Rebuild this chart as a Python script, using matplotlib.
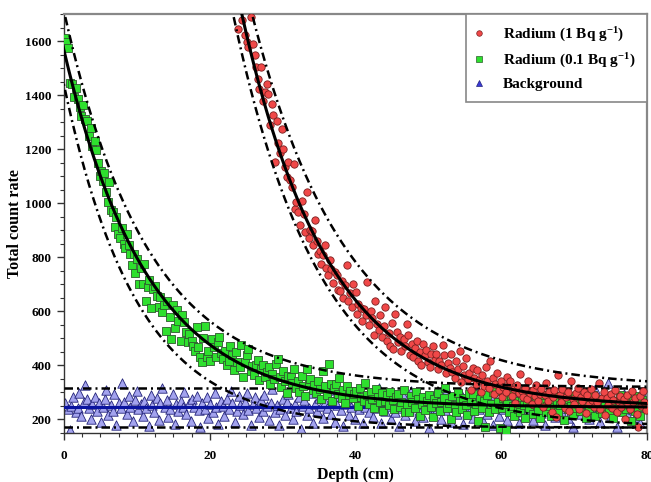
import numpy as np
import matplotlib.pyplot as plt
from matplotlib.ticker import MultipleLocator
from matplotlib.lines import Line2D

plt.rcParams['font.family'] = 'serif'
plt.rcParams['font.serif'] = ['Liberation Serif', 'DejaVu Serif']
plt.rcParams['font.weight'] = 'bold'
plt.rcParams['mathtext.fontset'] = 'custom'
plt.rcParams['mathtext.rm'] = 'Liberation Serif:bold'
plt.rcParams['mathtext.it'] = 'Liberation Serif:bold'
plt.rcParams['mathtext.bf'] = 'Liberation Serif:bold'

# ---- background (no source) ----
bg_depth = [
    0.2, 0.5, 0.8, 1.0, 1.3, 1.6, 1.9, 2.1, 2.4, 2.7,
    2.9, 3.1, 3.4, 3.7, 3.9, 4.2, 4.5, 4.8, 5.1, 5.4,
    5.6, 5.8, 6.1, 6.4, 6.7, 6.9, 7.2, 7.5, 7.8, 8.0,
    8.3, 8.6, 8.9, 9.1, 9.4, 9.7, 10.0, 10.2, 10.5, 10.8,
    11.0, 11.3, 11.6, 11.9, 12.1, 12.4, 12.7, 13.0, 13.2, 13.5,
    13.8, 14.1, 14.3, 14.6, 14.9, 15.2, 15.4, 15.7, 16.0, 16.3,
    16.5, 16.8, 17.1, 17.4, 17.6, 17.9, 18.2, 18.5, 18.7, 19.0,
    19.3, 19.6, 19.8, 20.1, 20.4, 20.7, 20.9, 21.2, 21.5, 21.8,
    22.0, 22.3, 22.6, 22.9, 23.1, 23.4, 23.7, 24.0, 24.2, 24.5,
    24.8, 25.1, 25.3, 25.6, 25.9, 26.2, 26.4, 26.7, 27.0, 27.3,
    27.5, 27.8, 28.1, 28.4, 28.6, 28.9, 29.2, 29.5, 29.7, 30.0,
    30.3, 30.6, 30.8, 31.1, 31.4, 31.7, 31.9, 32.2, 32.5, 32.8,
    33.0, 33.3, 33.6, 33.9, 34.1, 34.4, 34.7, 35.0, 35.2, 35.5,
    35.8, 36.1, 36.3, 36.6, 36.9, 37.2, 37.4, 37.7, 38.0, 38.3,
    38.5, 38.8, 39.1, 39.4, 39.6, 39.9, 40.2, 40.5, 40.7, 41.0,
    41.3, 41.6, 41.8, 42.1, 42.4, 42.7, 42.9, 43.2, 43.5, 43.8,
    44.0, 44.3, 44.6, 44.9, 45.1, 45.4, 45.7, 46.0, 46.2, 46.5,
    46.8, 47.1, 47.3, 47.6, 47.9, 48.2, 48.4, 48.7, 49.0, 49.3,
    49.5, 49.8, 50.1, 50.4, 50.6, 50.9, 51.2, 51.5, 51.7, 52.0,
    52.3, 52.6, 52.8, 53.1, 53.4, 53.7, 53.9, 54.2, 54.5, 54.8,
    55.0, 55.3, 55.6, 55.9, 56.1, 56.4, 56.7, 57.0, 57.2, 57.5,
    57.8, 58.1, 58.3, 58.6, 58.9, 59.2, 59.4, 59.7, 60.0, 60.3,
    60.5, 60.8, 61.1, 61.4, 61.6, 61.9, 62.2, 62.5, 62.7, 63.0,
    63.3, 63.6, 63.8, 64.1, 64.4, 64.7, 64.9, 65.2, 65.5, 65.8,
    66.0, 66.3, 66.6, 66.9, 67.1, 67.4, 67.7, 68.0, 68.2, 68.5,
    68.8, 69.1, 69.3, 69.6, 69.9, 70.2, 70.4, 70.7, 71.0, 71.3,
    71.5, 71.8, 72.1, 72.4, 72.6, 72.9, 73.2, 73.5, 73.7, 74.0,
    74.3, 74.6, 74.8, 75.1, 75.4, 75.7, 75.9, 76.2, 76.5, 76.8,
    77.0, 77.3, 77.6, 77.9, 78.1, 78.4, 78.7, 79.0, 79.3, 79.6,
]
bg_counts = [
    262, 238, 161, 251, 283, 226, 241, 297, 212, 266,
    329, 275, 244, 203, 258, 285, 231, 262, 191, 248,
    276, 309, 218, 254, 233, 295, 178, 262, 241, 336,
    264, 220, 287, 247, 196, 271, 305, 238, 256, 214,
    268, 242, 175, 290, 253, 226, 278, 199, 261, 317,
    247, 272, 209, 238, 294, 182, 256, 230, 268, 245,
    301, 221, 260, 193, 274, 248, 286, 234, 172, 262,
    239, 283, 204, 257, 226, 298, 245, 183, 270, 251,
    214, 276, 240, 305, 262, 191, 233, 288, 252, 219,
    265, 298, 236, 180, 257, 282, 244, 208, 271, 230,
    289, 249, 197, 262, 312, 226, 255, 178, 240, 276,
    218, 263, 294, 244, 203, 258, 232, 284, 166, 249,
    271, 215, 244, 297, 186, 257, 230, 279, 250, 206,
    263, 241, 310, 222, 268, 192, 253, 286, 234, 175,
    258, 281, 216, 246, 299, 201, 264, 237, 271, 186,
    245, 290, 228, 262, 209, 274, 243, 317, 187, 255,
    232, 268, 249, 202, 285, 226, 259, 176, 241, 292,
    216, 263, 238, 305, 251, 195, 276, 230, 264, 211,
    282, 247, 168, 259, 225, 293, 240, 270, 203, 256,
    235, 309, 262, 190, 248, 277, 221, 259, 296, 184,
    254, 229, 287, 242, 205, 266, 312, 237, 258, 196,
    273, 220, 251, 290, 178, 245, 265, 213, 283, 238,
    260, 199, 276, 244, 301, 226, 253, 187, 269, 240,
    215, 286, 255, 232, 198, 271, 247, 318, 224, 262,
    180, 253, 289, 236, 267, 210, 248, 295, 230, 261,
    243, 206, 278, 252, 172, 266, 235, 299, 219, 257,
    284, 238, 202, 263, 248, 314, 227, 190, 270, 251,
    232, 336, 260, 215, 281, 244, 174, 268, 237, 295,
    256, 222, 273, 240, 301, 209, 262, 186, 247, 279,
]

# ---- radium source, 0.1 Bq/g ----
low_depth = [
    0.1, 0.3, 0.5, 0.8, 1.1, 1.4, 1.6, 1.9, 2.2, 2.4,
    2.6, 2.9, 3.2, 3.4, 3.7, 3.9, 4.2, 4.4, 4.7, 4.9,
    5.1, 5.3, 5.5, 5.8, 6.0, 6.2, 6.5, 6.7, 7.0, 7.2,
    7.4, 7.7, 7.9, 8.2, 8.4, 8.6, 8.9, 9.1, 9.3, 9.6,
    9.8, 10.0, 10.3, 10.5, 10.8, 11.0, 11.2, 11.5, 11.7, 12.0,
    12.2, 12.5, 12.7, 13.0, 13.2, 13.5, 13.7, 14.0, 14.2, 14.5,
    14.7, 15.0, 15.2, 15.5, 15.7, 16.0, 16.2, 16.5, 16.7, 17.0,
    17.2, 17.5, 17.7, 18.0, 18.2, 18.4, 18.7, 18.9, 19.1, 19.4,
    19.6, 19.8, 20.1, 20.3, 20.6, 20.8, 21.1, 21.3, 21.6, 21.8,
    22.1, 22.3, 22.6, 22.8, 23.1, 23.3, 23.6, 23.8, 24.1, 24.3,
    24.6, 24.8, 25.1, 25.3, 25.6, 25.8, 26.1, 26.3, 26.6, 26.8,
    27.1, 27.3, 27.6, 27.8, 28.1, 28.3, 28.6, 28.8, 29.1, 29.3,
    29.6, 29.8, 30.1, 30.3, 30.6, 30.8, 31.1, 31.3, 31.6, 31.8,
    32.1, 32.3, 32.6, 32.8, 33.1, 33.3, 33.6, 33.8, 34.1, 34.3,
    34.6, 34.8, 35.1, 35.3, 35.6, 35.8, 36.1, 36.3, 36.6, 36.8,
    37.1, 37.3, 37.6, 37.8, 38.1, 38.3, 38.6, 38.8, 39.1, 39.3,
    39.6, 39.8, 40.1, 40.3, 40.6, 40.8, 41.1, 41.3, 41.6, 41.8,
    42.1, 42.3, 42.6, 42.8, 43.1, 43.3, 43.6, 43.8, 44.1, 44.3,
    44.6, 44.8, 45.1, 45.3, 45.6, 45.8, 46.1, 46.3, 46.6, 46.8,
    47.1, 47.3, 47.6, 47.8, 48.1, 48.3, 48.6, 48.8, 49.1, 49.3,
    49.6, 49.8, 50.1, 50.3, 50.6, 50.8, 51.1, 51.3, 51.6, 51.8,
    52.1, 52.3, 52.6, 52.8, 53.1, 53.3, 53.6, 53.8, 54.1, 54.3,
    54.6, 54.8, 55.1, 55.3, 55.6, 55.8, 56.1, 56.3, 56.6, 56.8,
    57.1, 57.3, 57.6, 57.8, 58.1, 58.3, 58.6, 58.8, 59.1, 59.3,
    59.6, 59.8, 60.1, 60.3, 60.6, 60.8, 61.1, 61.3, 61.6, 61.8,
    62.1, 62.3, 62.6, 62.8, 63.1, 63.3, 63.6, 63.8, 64.1, 64.3,
    64.6, 64.8, 65.1, 65.3, 65.6, 65.8, 66.1, 66.3, 66.6, 66.8,
    67.1, 67.3, 67.6, 67.8, 68.1, 68.3, 68.6, 68.8, 69.1, 69.3,
    69.6, 69.8, 70.1, 70.3, 70.6, 70.8, 71.1, 71.3, 71.6, 71.8,
    72.1, 72.3, 72.6, 72.8, 73.1, 73.3, 73.6, 73.8, 74.1, 74.3,
    74.6, 74.8, 75.1, 75.3, 75.6, 75.8, 76.1, 76.3, 76.6, 76.8,
    77.1, 77.3, 77.6, 77.8, 78.1, 78.3, 78.6, 78.8, 79.1, 79.3,
]
low_counts = [
    1612, 1598, 1575, 1445, 1440, 1392, 1425, 1384, 1357, 1322,
    1362, 1310, 1305, 1250, 1277, 1210, 1232, 1198, 1148, 1100,
    1120, 1082, 1112, 1040, 1005, 1078, 975, 968, 912, 948,
    888, 872, 907, 850, 835, 885, 845, 814, 770, 812,
    742, 795, 700, 760, 702, 777, 640, 690, 716, 612,
    682, 692, 655, 615, 652, 598, 622, 529, 640, 578,
    498, 622, 540, 605, 563, 492, 585, 560, 524, 486,
    515, 492, 470, 455, 541, 467, 431, 412, 500, 546,
    432, 455, 418, 497, 468, 430, 488, 505, 446, 422,
    455, 402, 418, 470, 437, 384, 451, 413, 396, 474,
    358, 412, 440, 462, 380, 398, 365, 400, 421, 347,
    388, 402, 356, 374, 393, 331, 370, 348, 405, 424,
    356, 322, 378, 341, 298, 362, 356, 334, 388, 315,
    344, 303, 362, 325, 287, 387, 330, 348, 308, 326,
    298, 342, 312, 277, 381, 325, 292, 405, 333, 268,
    318, 332, 296, 352, 281, 310, 262, 325, 290, 306,
    278, 296, 307, 250, 318, 284, 270, 335, 292, 258,
    301, 276, 242, 312, 285, 264, 298, 231, 270, 290,
    255, 302, 272, 238, 282, 296, 248, 266, 309, 226,
    258, 226, 288, 266, 243, 302, 275, 214, 259, 284,
    236, 270, 292, 248, 210, 275, 260, 298, 231, 265,
    281, 315, 242, 262, 200, 287, 254, 226, 298, 270,
    238, 279, 252, 216, 293, 265, 296, 230, 258, 196,
    276, 244, 268, 171, 289, 227, 256, 302, 240, 307,
    263, 170, 244, 280, 160, 258, 228, 291, 249, 213,
    270, 238, 227, 285, 252, 204, 266, 241, 296, 220,
    258, 277, 235, 204, 262, 289, 226, 250, 273, 212,
    296, 245, 268, 228, 254, 282, 199, 261, 238, 275,
    250, 219, 287, 243, 265, 230, 258, 282, 207, 270,
    236, 262, 290, 214, 255, 276, 240, 224, 268, 249,
    281, 233, 258, 205, 270, 246, 241, 290, 226, 262,
    238, 279, 252, 196, 268, 232, 287, 245, 214, 271,
]

# ---- radium source, 1 Bq/g ----
high_depth = [
    23.9, 24.4, 24.8, 25.1, 25.3, 25.6, 26.0, 26.2, 26.4, 26.6,
    26.8, 27.1, 27.3, 27.6, 27.8, 28.0, 28.2, 28.5, 28.7, 28.9,
    29.2, 29.4, 29.6, 29.9, 30.1, 30.3, 30.6, 30.8, 31.0, 31.3,
    31.5, 31.7, 31.9, 32.1, 32.4, 32.6, 32.9, 33.1, 33.3, 33.6,
    33.8, 34.0, 34.2, 34.4, 34.7, 34.9, 35.1, 35.3, 35.6, 35.8,
    36.0, 36.2, 36.5, 36.7, 36.9, 37.2, 37.4, 37.6, 37.9, 38.1,
    38.3, 38.6, 38.8, 39.0, 39.3, 39.5, 39.7, 40.0, 40.2, 40.4,
    40.7, 40.9, 41.1, 41.4, 41.6, 41.8, 42.1, 42.3, 42.5, 42.7,
    43.0, 43.2, 43.4, 43.6, 43.9, 44.1, 44.3, 44.6, 44.8, 45.0,
    45.2, 45.4, 45.7, 45.9, 46.1, 46.3, 46.6, 46.8, 47.0, 47.2,
    47.5, 47.7, 47.9, 48.1, 48.4, 48.6, 48.8, 49.0, 49.3, 49.5,
    49.7, 49.9, 50.2, 50.4, 50.6, 50.9, 51.1, 51.3, 51.5, 51.8,
    52.0, 52.2, 52.4, 52.7, 52.9, 53.1, 53.3, 53.6, 53.8, 54.0,
    54.3, 54.5, 54.7, 54.9, 55.2, 55.4, 55.6, 55.8, 56.1, 56.3,
    56.5, 56.7, 57.0, 57.2, 57.4, 57.6, 57.9, 58.1, 58.3, 58.5,
    58.8, 59.0, 59.2, 59.4, 59.7, 59.9, 60.1, 60.3, 60.6, 60.8,
    61.0, 61.2, 61.5, 61.7, 61.9, 62.1, 62.4, 62.6, 62.8, 63.0,
    63.3, 63.5, 63.7, 63.9, 64.2, 64.4, 64.6, 64.8, 65.1, 65.3,
    65.5, 65.7, 66.0, 66.2, 66.4, 66.6, 66.9, 67.1, 67.3, 67.5,
    67.8, 68.0, 68.2, 68.4, 68.7, 68.9, 69.1, 69.3, 69.6, 69.8,
    70.0, 70.2, 70.5, 70.7, 70.9, 71.1, 71.4, 71.6, 71.8, 72.0,
    72.3, 72.5, 72.7, 72.9, 73.2, 73.4, 73.6, 73.8, 74.1, 74.3,
    74.5, 74.7, 75.0, 75.2, 75.4, 75.6, 75.9, 76.1, 76.3, 76.5,
    76.8, 77.0, 77.2, 77.4, 77.7, 77.9, 78.1, 78.3, 78.6, 78.8,
    79.0, 79.2, 79.4, 79.6, 79.8,
]
high_counts = [
    1646, 1676, 1621, 1596, 1578, 1690, 1590, 1547, 1503, 1460,
    1423, 1503, 1380, 1412, 1442, 1405, 1288, 1368, 1325, 1153,
    1306, 1221, 1185, 1276, 1202, 1135, 1098, 1153, 1086, 1060,
    1146, 980, 1004, 967, 918, 1010, 960, 895, 1043, 870,
    902, 899, 846, 937, 862, 812, 825, 776, 810, 845,
    760, 735, 790, 757, 705, 745, 733, 680, 677, 712,
    650, 698, 770, 640, 668, 615, 702, 672, 590, 628,
    612, 566, 610, 585, 708, 548, 602, 574, 512, 640,
    554, 530, 586, 504, 545, 615, 492, 521, 470, 558,
    461, 590, 523, 488, 505, 452, 497, 472, 554, 511,
    440, 478, 432, 465, 492, 418, 451, 402, 480, 437,
    458, 412, 395, 443, 470, 420, 443, 387, 416, 401,
    474, 437, 372, 410, 392, 443, 375, 352, 418, 385,
    455, 338, 398, 366, 426, 348, 372, 310, 392, 355,
    331, 384, 347, 302, 366, 325, 393, 341, 318, 418,
    352, 296, 331, 372, 308, 344, 283, 319, 302, 359,
    334, 344, 288, 312, 262, 326, 297, 369, 306, 284,
    318, 275, 341, 298, 256, 308, 286, 327, 270, 296,
    312, 248, 289, 334, 270, 301, 229, 282, 308, 208,
    363, 290, 265, 312, 244, 285, 301, 232, 344, 276,
    258, 297, 318, 240, 283, 267, 302, 225, 289, 256,
    312, 271, 246, 290, 263, 335, 238, 279, 301, 218,
    280, 254, 296, 242, 272, 309, 228, 263, 286, 247,
    274, 201, 292, 258, 237, 306, 266, 281, 222, 171,
    288, 249, 305, 263, 236,
]

# fitted curves: base + amp * exp(-(depth - x0) / tau)
low_fit = (245, 1320, 0.0, 11.5)
low_upper = (320, 1390, 0.0, 11.5)
low_lower = (170, 1267, 0.0, 10.0)
high_fit = (245, 1455, 24.4, 12.0)
high_upper = (320, 1380, 25.8, 13.0)
high_lower = (170, 1530, 23.2, 12.0)

bg_mean = 246
bg_upper = 317
bg_lower = 172


def decay(x, base, amp, x0, tau):
    return base + amp * np.exp(-(x - x0) / tau)


dashdot = (0, (3.4, 1.6, 0.8, 1.6))

fig = plt.figure(figsize=(6.51, 4.82), dpi=100)
ax = fig.add_axes([64 / 651, 1 - 433 / 482, 583 / 651, 419 / 482])

ax.scatter(bg_depth, bg_counts, marker='^', s=46, c='#a3a3ee',
           edgecolors='#23237a', linewidths=0.6, zorder=2)
ax.axhline(bg_mean, color='#0a14a0', lw=2.2, zorder=3)
for level in (bg_upper, bg_lower):
    ax.axhline(level, color='black', lw=1.8, ls=dashdot, zorder=3)

ax.scatter(low_depth, low_counts, marker='s', s=32, c='#2ee02e',
           edgecolors='#2d5a2d', linewidths=0.6, zorder=4)

ax.scatter(high_depth, high_counts, marker='o', s=28, c='#f04848',
           edgecolors='#7a2020', linewidths=0.6, zorder=5)

depth = np.linspace(-5, 82, 600)
ax.plot(depth, decay(depth, *low_fit), color='black', lw=2.2, zorder=6)
ax.plot(depth, decay(depth, *high_fit), color='black', lw=2.2, zorder=6)
for band in (low_upper, low_lower, high_upper, high_lower):
    ax.plot(depth, decay(depth, *band), color='black', lw=1.8,
            ls=dashdot, zorder=6)

ax.set_xlim(0, 80)
ax.set_ylim(150, 1700)
ax.set_xticks([0, 20, 40, 60, 80])
ax.set_yticks([200, 400, 600, 800, 1000, 1200, 1400, 1600])
ax.xaxis.set_minor_locator(MultipleLocator(2.5))
ax.yaxis.set_minor_locator(MultipleLocator(50))
ax.tick_params(which='major', direction='out', length=5, width=1,
               labelsize=9.5, colors='#333333', labelcolor='black')
ax.tick_params(which='minor', direction='out', length=3, width=0.8,
               colors='#333333')
ax.tick_params(axis='x', which='major', pad=7)
ax.tick_params(axis='y', which='major', pad=4)

for side in ('top', 'right'):
    ax.spines[side].set_color('#888888')
    ax.spines[side].set_linewidth(1.6)
for side in ('left', 'bottom'):
    ax.spines[side].set_color('#333333')
    ax.spines[side].set_linewidth(1.0)

ax.set_xlabel('Depth (cm)', fontsize=11.5, fontweight='bold')
ax.set_ylabel('Total count rate', fontsize=11.5, fontweight='bold')
ax.xaxis.set_label_coords(0.5, -0.081)
ax.yaxis.set_label_coords(-0.071, 0.5)

handles = [
    Line2D([], [], ls='none', marker='o', ms=4, mfc='#f04848',
           mec='#7a2020', mew=0.5),
    Line2D([], [], ls='none', marker='s', ms=4, mfc='#2ee02e',
           mec='#2d5a2d', mew=0.5),
    Line2D([], [], ls='none', marker='^', ms=5, mfc='#3a3ad8',
           mec='#23237a', mew=0.5),
]
labels = [r'Radium (1 Bq g$^{-1}$)', r'Radium (0.1 Bq g$^{-1}$)',
          'Background']
leg = ax.legend(handles, labels, loc='upper right', borderaxespad=0,
                fancybox=False, edgecolor='#888888', framealpha=1,
                prop={'family': 'serif', 'weight': 'bold', 'size': 11},
                borderpad=0.75, handlelength=0.2, handletextpad=1.45,
                labelspacing=0.5, numpoints=1)
leg.get_frame().set_linewidth(1.2)
leg.set_zorder(10)

fig.savefig('out.png', dpi=100)
